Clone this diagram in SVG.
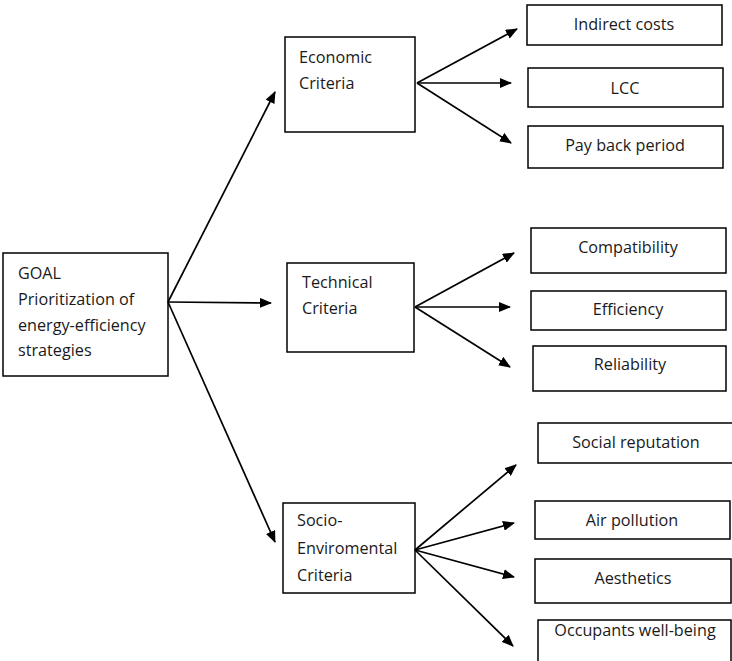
<svg xmlns="http://www.w3.org/2000/svg" width="732" height="661" viewBox="0 0 732 661">
  <defs>
    <marker id="arrow" viewBox="0 0 12 10" refX="11" refY="5" markerWidth="12" markerHeight="10" markerUnits="userSpaceOnUse" orient="auto">
      <path d="M0,0 L12,5 L0,10 z" fill="#000"/>
    </marker>
    <style>
      .box { fill: #fff; stroke: #000; stroke-width: 1.5; }
      .lbl { font-family: "Open Sans", "Noto Sans", "Liberation Sans", sans-serif; font-size: 16.2px; fill: #1a1a1a; }
      .mid { text-anchor: middle; }
      .conn line { stroke: #000; stroke-width: 1.7; marker-end: url(#arrow); }
    </style>
  </defs>
  <rect width="732" height="661" fill="#fff"/>

  <!-- goal -->
  <g id="goal">
    <rect class="box" x="3" y="253" width="165" height="123"/>
    <text class="lbl" x="18" y="279">GOAL</text>
    <text class="lbl" x="18" y="305">Prioritization of</text>
    <text class="lbl" x="18" y="331">energy-efficiency</text>
    <text class="lbl" x="18" y="356">strategies</text>
  </g>

  <!-- criteria -->
  <g id="economic">
    <rect class="box" x="285" y="37" width="130" height="95"/>
    <text class="lbl" x="299" y="63">Economic</text>
    <text class="lbl" x="299" y="89">Criteria</text>
  </g>
  <g id="technical">
    <rect class="box" x="287" y="263" width="127" height="89"/>
    <text class="lbl" x="302" y="288">Technical</text>
    <text class="lbl" x="302" y="314">Criteria</text>
  </g>
  <g id="socio">
    <rect class="box" x="283" y="503" width="132" height="90"/>
    <text class="lbl" x="297" y="526">Socio-</text>
    <text class="lbl" x="297" y="554">Enviromental</text>
    <text class="lbl" x="297" y="581">Criteria</text>
  </g>

  <!-- economic sub-criteria -->
  <g id="indirect-costs">
    <rect class="box" x="527" y="5" width="195" height="40"/>
    <text class="lbl mid" x="624" y="30">Indirect costs</text>
  </g>
  <g id="lcc">
    <rect class="box" x="528" y="68" width="195" height="39"/>
    <text class="lbl mid" x="625" y="94">LCC</text>
  </g>
  <g id="payback">
    <rect class="box" x="528" y="126" width="195" height="42"/>
    <text class="lbl mid" x="625" y="151">Pay back period</text>
  </g>

  <!-- technical sub-criteria -->
  <g id="compatibility">
    <rect class="box" x="531" y="228" width="195" height="45"/>
    <text class="lbl mid" x="628" y="253">Compatibility</text>
  </g>
  <g id="efficiency">
    <rect class="box" x="531" y="291" width="195" height="39"/>
    <text class="lbl mid" x="628" y="315">Efficiency</text>
  </g>
  <g id="reliability">
    <rect class="box" x="533" y="346" width="193" height="45"/>
    <text class="lbl mid" x="630" y="370">Reliability</text>
  </g>

  <!-- socio-environmental sub-criteria -->
  <g id="social-reputation">
    <rect class="box" x="538" y="423" width="200" height="40"/>
    <text class="lbl mid" x="636" y="448">Social reputation</text>
  </g>
  <g id="air-pollution">
    <rect class="box" x="535" y="501" width="195" height="38"/>
    <text class="lbl mid" x="632" y="526">Air pollution</text>
  </g>
  <g id="aesthetics">
    <rect class="box" x="535" y="559" width="196" height="44"/>
    <text class="lbl mid" x="633" y="584">Aesthetics</text>
  </g>
  <g id="occupants">
    <rect class="box" x="538" y="620" width="193" height="50"/>
    <text class="lbl mid" x="635" y="636">Occupants well-being</text>
  </g>

  <!-- connectors -->
  <g id="connectors" class="conn">
    <line x1="168" y1="302" x2="275" y2="92"/>
    <line x1="168" y1="302" x2="271" y2="303"/>
    <line x1="168" y1="302" x2="275" y2="542"/>

    <line x1="417" y1="83" x2="517" y2="29"/>
    <line x1="417" y1="83" x2="511" y2="83"/>
    <line x1="417" y1="83" x2="511" y2="143"/>

    <line x1="415" y1="307" x2="514" y2="253"/>
    <line x1="415" y1="307" x2="510" y2="307"/>
    <line x1="415" y1="307" x2="510" y2="367"/>

    <line x1="415" y1="550" x2="516" y2="465"/>
    <line x1="415" y1="550" x2="514" y2="523"/>
    <line x1="415" y1="550" x2="514" y2="577"/>
    <line x1="415" y1="550" x2="513" y2="646"/>
  </g>
</svg>
